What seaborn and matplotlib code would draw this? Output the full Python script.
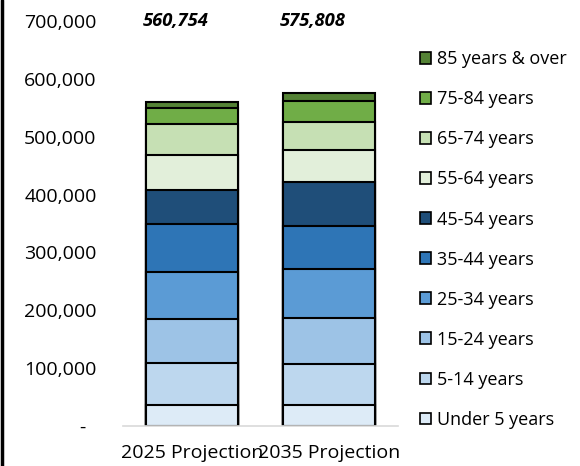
import numpy as np
import pandas as pd
import matplotlib
matplotlib.use("Agg")
import matplotlib.pyplot as plt
import seaborn as sns
from matplotlib.patches import Patch
from matplotlib.ticker import FuncFormatter

# Data, bottom segment first
years = ["2025 Projection", "2035 Projection"]
age_groups = ["Under 5 years", "5-14 years", "15-24 years", "25-34 years", "35-44 years",
              "45-54 years", "55-64 years", "65-74 years", "75-84 years", "85 years & over"]
pop_2025 = [36500, 71500, 76000, 82000, 82500, 60000, 60000, 53500, 28000, 10754]
pop_2035 = [36700, 71000, 79000, 84000, 75000, 76000, 55000, 48000, 36500, 14608]
totals = [560754, 575808]

colors = ["#DDEBF7", "#BDD7EE", "#9DC3E6", "#5B9BD5", "#2E75B6",
          "#1F4E79", "#E2EFDA", "#C6E0B4", "#70AD47", "#548235"]

sns.set_style("white")
plt.rcParams["font.family"] = ["Open Sans", "DejaVu Sans"]
plt.rcParams["text.color"] = "black"
plt.rcParams["xtick.color"] = "black"
plt.rcParams["ytick.color"] = "black"

df = pd.DataFrame({"year": np.repeat(years, len(age_groups)),
                   "age": age_groups * len(years),
                   "pop": pop_2025 + pop_2035})
df["cum"] = df.groupby("year")["pop"].cumsum()

fig = plt.figure(figsize=(5.8, 4.66), dpi=100)
ax = fig.add_axes([0.212, 0.086, 0.474, 0.869])

# stacked bars: draw cumulative heights from the top segment down
for age, color in reversed(list(zip(age_groups, colors))):
    sub = df[df["age"] == age]
    sns.barplot(data=sub, x="year", y="cum", color=color, order=years,
                width=0.67, edgecolor="black", linewidth=1.5, saturation=1, ax=ax)

for i, total in enumerate(totals):
    ax.text(i - 0.12, 700000, f"{total:,}", ha="center", va="center",
            fontsize=13.2, fontweight="bold", fontstyle="italic")

ax.set_ylim(0, 700000)
ax.set_xlim(-0.5, 1.5)
ax.set_yticks(range(0, 700001, 100000))
ax.yaxis.set_major_formatter(FuncFormatter(lambda v, p: "-  " if v == 0 else f"{int(v):,}"))
ax.tick_params(axis="y", length=0, pad=19, labelsize=14)
ax.tick_params(axis="x", length=0, pad=13, labelsize=14)
ax.set_xlabel("")
ax.set_ylabel("")
for s in ["top", "right", "left"]:
    ax.spines[s].set_visible(False)
ax.spines["bottom"].set_color("#D9D9D9")
ax.spines["bottom"].set_linewidth(1.2)

handles = [Patch(facecolor=c, edgecolor="black", linewidth=1.2) for c in colors][::-1]
fig.legend(handles, age_groups[::-1], loc="center left", bbox_to_anchor=(0.724, 0.486),
           frameon=False, fontsize=13, handlelength=0.6, handleheight=0.6,
           handletextpad=0.35, labelspacing=1.22, borderpad=0, borderaxespad=0)

# left border line seen in the reference
fig.add_artist(plt.Line2D([0.004, 0.004], [0, 1], color="black", linewidth=2.5,
                          transform=fig.transFigure))

fig.savefig("out.png", dpi=100)
